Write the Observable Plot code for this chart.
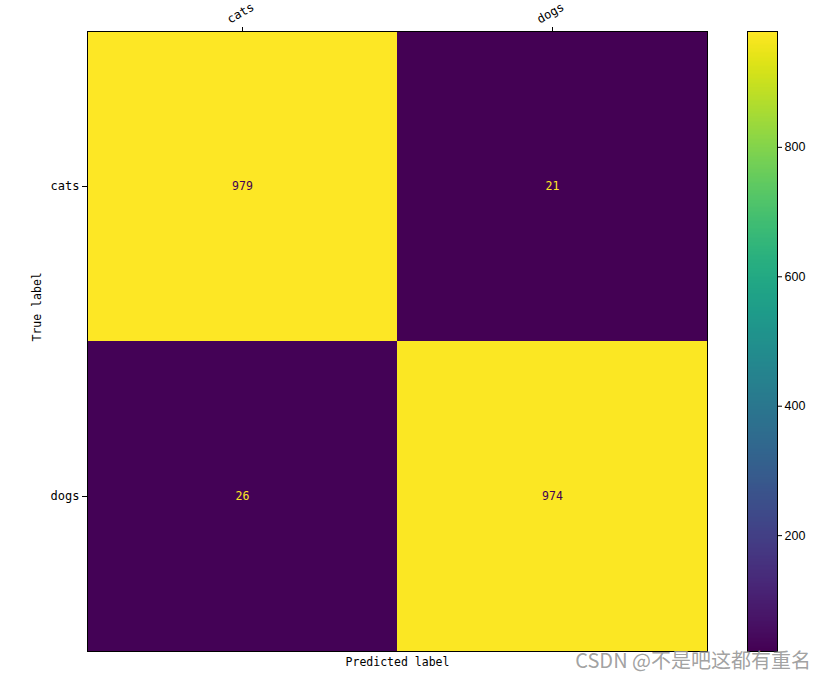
<!DOCTYPE html>
<html>
<head>
<meta charset="utf-8">
<script src="https://cdn.jsdelivr.net/npm/d3@7"></script>
<script src="https://cdn.jsdelivr.net/npm/@observablehq/plot@0.6"></script>
<style>
  html, body { margin: 0; padding: 0; background: #fff; }
  #wrap { position: relative; width: 825px; height: 680px; }
  #wrap svg { position: absolute; top: 0; }
  #mark { position: absolute; right: 14px; top: 650px; font-family: "Noto Sans CJK SC", sans-serif; font-size: 20px; color: rgba(150,150,150,0.9); line-height: 1; white-space: nowrap; }
</style>
</head>
<body>
<div id="wrap"></div>
<script>
const trueLabels = ["cats", "dogs"];
const predLabels = ["cats", "dogs"];
const counts = [[979, 21], [26, 974]];
const colorbarTicks = [200, 400, 600, 800];
const xTitle = "Predicted label";
const yTitle = "True label";
const watermark = "CSDN @不是吧这都有重名";

const data = [];
trueLabels.forEach((t, i) => predLabels.forEach((p, j) => data.push({t, p, v: counts[i][j]})));
const vmin = d3.min(data, d => d.v), vmax = d3.max(data, d => d.v);
const mid = (vmin + vmax) / 2;
const labelFont = "'DejaVu Sans Mono', monospace";

const main = Plot.plot({
  width: 825, height: 680,
  marginLeft: 87, marginRight: 118, marginTop: 31, marginBottom: 29,
  style: {fontFamily: labelFont, fontSize: "11.5px", background: "transparent"},
  x: {domain: predLabels, padding: 0, axis: null},
  y: {domain: trueLabels, padding: 0, axis: null},
  color: {type: "linear", scheme: "viridis", domain: [vmin, vmax]},
  marks: [
    Plot.cell(data, {x: "p", y: "t", fill: "v"}),
    Plot.text(data.filter(d => d.v >= mid), {x: "p", y: "t", text: d => String(d.v), fill: "#440154", fontSize: 11.5}),
    Plot.text(data.filter(d => d.v < mid), {x: "p", y: "t", text: d => String(d.v), fill: "#fde725", fontSize: 11.5}),
    Plot.frame({stroke: "black", strokeWidth: 1}),
    Plot.axisX({anchor: "top", tickRotate: -30, tickSize: 5, tickPadding: 10, textAnchor: "middle", lineAnchor: "bottom", label: null, fontSize: 12, color: "black"}),
    Plot.axisY({anchor: "left", tickSize: 5, tickPadding: 3, label: null, fontSize: 12, color: "black"}),
    Plot.text([xTitle], {frameAnchor: "bottom", dy: 11, lineAnchor: "middle", text: d => d, fontSize: 11.5, fill: "black"}),
    Plot.text([yTitle], {frameAnchor: "left", dx: -50, rotate: -90, text: d => d, fontSize: 11.5, fill: "black"})
  ]
});

const bar = Plot.plot({
  width: 79, height: 680,
  marginLeft: 1, marginRight: 48, marginTop: 31, marginBottom: 29,
  style: {fontFamily: "'Liberation Sans', Arial, sans-serif", fontSize: "12.5px", background: "transparent"},
  x: {domain: [0, 1], axis: null},
  y: {domain: [vmin, vmax], axis: null},
  color: {type: "linear", scheme: "viridis", domain: [vmin, vmax]},
  marks: [
    Plot.raster({fill: (x, y) => y, x1: 0, x2: 1, y1: vmin, y2: vmax, width: 1, height: 400, imageRendering: "auto"}),
    Plot.frame({stroke: "black", strokeWidth: 1}),
    Plot.axisY({anchor: "right", ticks: colorbarTicks, tickSize: 4, tickPadding: 3, label: null, fontSize: 12.5, color: "black", tickFormat: d => String(d)})
  ]
});

const wrap = document.getElementById("wrap");
main.style.left = "0px";
bar.style.left = "746px";
wrap.appendChild(main);
wrap.appendChild(bar);
const wm = document.createElement("div");
wm.id = "mark";
wm.textContent = watermark;
wrap.appendChild(wm);
</script>
</body>
</html>
